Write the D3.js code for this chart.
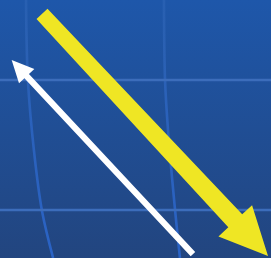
<!DOCTYPE html>
<html><head><meta charset="utf-8">
<script src="https://cdn.jsdelivr.net/npm/d3@7/dist/d3.min.js"></script>
<style>html,body{margin:0;padding:0;background:#1f4f9c;overflow:hidden}svg{display:block}</style>
</head><body>
<script>
// Data (in chart units: x 0..100 left→right, y 0..100 bottom→top)
const parallels = [69.0, 18.6];
const meridianLeftX = [9.6, 10.3, 12.5, 15.5, 19.6];
const meridianLeftY = [100, 69.0, 41.9, 18.2, 0];
const meridianRightX = [60.5, 60.9, 62.0, 64.6, 66.4];
const meridianRightY = [100, 69.0, 49.6, 18.6, 0];
const arrowNames = ["yellow", "white"];
const arrowStartX = [15.5, 71.2];
const arrowStartY = [94.6, 1.5];
const arrowEndX = [98.9, 4.3];
const arrowEndY = [0.8, 76.7];

const W = 271, H = 258;
const x = d3.scaleLinear().domain([0, 100]).range([0, W]);
const y = d3.scaleLinear().domain([0, 100]).range([H, 0]);

const svg = d3.select("body").append("svg").attr("width", W).attr("height", H);
const defs = svg.append("defs");
const bg = defs.append("linearGradient").attr("id", "bg").attr("x1", 0).attr("y1", 0).attr("x2", 0).attr("y2", 1);
bg.append("stop").attr("offset", "0%").attr("stop-color", "#1e57aa");
bg.append("stop").attr("offset", "100%").attr("stop-color", "#22457f");
const mg = defs.append("linearGradient").attr("id", "mg").attr("gradientUnits", "userSpaceOnUse")
  .attr("x1", 0).attr("y1", 0).attr("x2", 0).attr("y2", H);
mg.append("stop").attr("offset", "0%").attr("stop-color", "#3a6fc0").attr("stop-opacity", 0.35);
mg.append("stop").attr("offset", "45%").attr("stop-color", "#2d66c4").attr("stop-opacity", 0.8);
mg.append("stop").attr("offset", "100%").attr("stop-color", "#2a63c6").attr("stop-opacity", 1);

svg.append("rect").attr("width", W).attr("height", H).attr("fill", "url(#bg)");

// meridians
const line = d3.line().x(d => x(d[0])).y(d => y(d[1])).curve(d3.curveCatmullRom);
const meridians = [
  d3.zip(meridianLeftX, meridianLeftY),
  d3.zip(meridianRightX, meridianRightY)
];
svg.selectAll("path.mer").data(meridians).join("path").attr("class", "mer")
  .attr("d", line).attr("fill", "none").attr("stroke", "url(#mg)").attr("stroke-width", 2.6);

// parallels
svg.selectAll("line.par").data(parallels).join("line").attr("class", "par")
  .attr("x1", 0).attr("x2", W).attr("y1", d => y(d)).attr("y2", d => y(d))
  .attr("stroke", "#3c6dbb").attr("stroke-width", 2.6);

// arrows
const styles = {
  yellow: {fill: "#efe624", w0: 15, w1: 19, hw: 46, hl: 48},
  white: {fill: "#ffffff", w0: 6.2, w1: 6.2, hw: 21, hl: 22}
};
function arrowPath(i) {
  const s = styles[arrowNames[i]];
  const sx = x(arrowStartX[i]), sy = y(arrowStartY[i]);
  const tx = x(arrowEndX[i]), ty = y(arrowEndY[i]);
  const dx = tx - sx, dy = ty - sy, L = Math.hypot(dx, dy);
  const ux = dx / L, uy = dy / L, nx = -uy, ny = ux;
  const bx = tx - ux * s.hl, by = ty - uy * s.hl;
  const p = [
    [sx + nx * s.w0 / 2, sy + ny * s.w0 / 2],
    [bx + nx * s.w1 / 2, by + ny * s.w1 / 2],
    [bx + nx * s.hw / 2, by + ny * s.hw / 2],
    [tx, ty],
    [bx - nx * s.hw / 2, by - ny * s.hw / 2],
    [bx - nx * s.w1 / 2, by - ny * s.w1 / 2],
    [sx - nx * s.w0 / 2, sy - ny * s.w0 / 2]
  ];
  return "M" + p.map(q => q.join(",")).join("L") + "Z";
}
svg.selectAll("path.arrow").data(d3.range(arrowNames.length)).join("path").attr("class", "arrow")
  .attr("d", arrowPath).attr("fill", i => styles[arrowNames[i]].fill);
</script>
</body></html>
